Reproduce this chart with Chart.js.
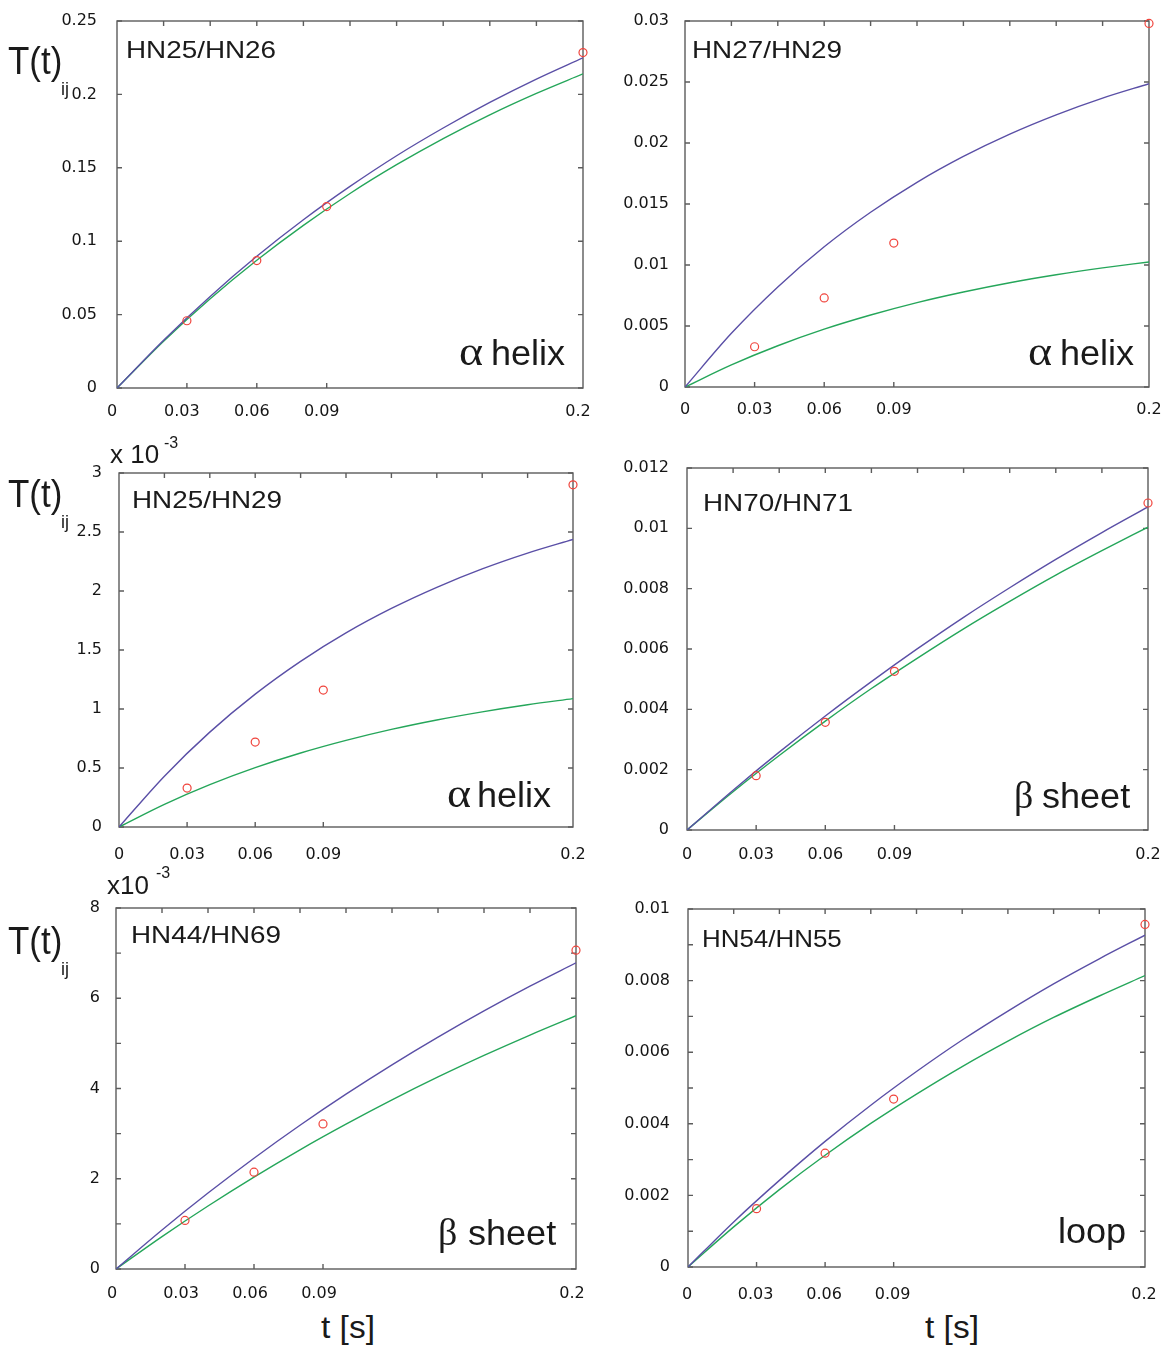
<!DOCTYPE html>
<html>
<head>
<meta charset="utf-8">
<script src="https://cdn.jsdelivr.net/npm/chart.js@4.4.1/dist/chart.umd.min.js"></script>
<style>
  body { margin: 0; background: #fff; width: 1161px; height: 1346px; position: relative; overflow: hidden; }
  canvas { position: absolute; }
  .txt { position: absolute; white-space: nowrap; line-height: 1; color: #1a1a1a; transform-origin: 0 0; z-index: 2; }
</style>
</head>
<body>
<script>
// mixing time grid for the model curves, and the measured mixing times
const tLine = [0, 0.02, 0.04, 0.06, 0.08, 0.10, 0.12, 0.14, 0.16, 0.18, 0.20];
const tObs = [0.03, 0.06, 0.09, 0.2];
const xLabelTicks = [0, 0.03, 0.06, 0.09, 0.2];
const xTopMarks = [0.02, 0.04, 0.06, 0.08, 0.10, 0.12, 0.14, 0.16, 0.18];
const xBottomMarks = [0.03, 0.06, 0.09];

// HN25/HN26 — alpha helix
const p1Blue = [0, 0.0326, 0.0624, 0.0897, 0.1146, 0.1373, 0.1582, 0.1771, 0.1945, 0.2104, 0.2249];
const p1Green = [0, 0.0319, 0.0608, 0.0870, 0.1108, 0.1325, 0.1521, 0.1699, 0.1861, 0.2007, 0.2140];
const p1Obs = [0.0458, 0.0868, 0.1236, 0.2285];
const p1YTicks = [0, 0.05, 0.1, 0.15, 0.2, 0.25];

// HN27/HN29 — alpha helix
const p2Blue = [0, 0.0044, 0.0082, 0.01149, 0.01432, 0.01678, 0.0189, 0.02073, 0.02231, 0.02368, 0.02486];
const p2Green = [0, 0.00181, 0.00338, 0.00474, 0.0059, 0.00692, 0.00779, 0.00855, 0.0092, 0.00976, 0.01025];
const p2Obs = [0.0033, 0.0073, 0.0118, 0.0298];
const p2YTicks = [0, 0.005, 0.01, 0.015, 0.02, 0.025, 0.03];

// HN25/HN29 — alpha helix (x 10^-3)
const p3Blue = [0, 0.431, 0.804, 1.126, 1.404, 1.645, 1.852, 2.031, 2.187, 2.321, 2.437];
const p3Green = [0, 0.192, 0.359, 0.503, 0.627, 0.734, 0.827, 0.907, 0.976, 1.036, 1.088];
const p3Obs = [0.33, 0.72, 1.16, 2.9];
const p3YTicks = [0, 0.5, 1, 1.5, 2, 2.5, 3];

// HN70/HN71 — beta sheet
const p4Blue = [0, 0.00132, 0.00258, 0.00378, 0.00492, 0.00601, 0.00705, 0.00803, 0.00897, 0.00986, 0.01071];
const p4Green = [0, 0.00127, 0.00247, 0.00361, 0.00469, 0.0057, 0.00667, 0.00758, 0.00845, 0.00926, 0.01004];
const p4Obs = [0.0018, 0.00357, 0.00526, 0.01084];
const p4YTicks = [0, 0.002, 0.004, 0.006, 0.008, 0.01, 0.012];

// HN44/HN69 — beta sheet (x 10^-3)
const p5Blue = [0, 0.865, 1.683, 2.455, 3.185, 3.874, 4.525, 5.139, 5.72, 6.268, 6.785];
const p5Green = [0, 0.719, 1.396, 2.036, 2.641, 3.209, 3.747, 4.255, 4.733, 5.185, 5.612];
const p5Obs = [1.077, 2.146, 3.215, 7.065];
const p5YTicks = [0, 2, 4, 6, 8];
const p5YMarks = [0, 1, 2, 3, 4, 5, 6, 7, 8];

// HN54/HN55 — loop
const p6Blue = [0, 0.00126, 0.00242, 0.00351, 0.00452, 0.00546, 0.00634, 0.00715, 0.00791, 0.00861, 0.00927];
const p6Green = [0, 0.00112, 0.00216, 0.00312, 0.00401, 0.00483, 0.0056, 0.00631, 0.00697, 0.00757, 0.00814];
const p6Obs = [0.00163, 0.00318, 0.00469, 0.00957];
const p6YTicks = [0, 0.002, 0.004, 0.006, 0.008, 0.01];
const p6YMarks = [0, 0.001, 0.002, 0.003, 0.004, 0.005, 0.006, 0.007, 0.008, 0.009, 0.01];

const BLUE = '#5a4fa6', GREEN = '#25a65a', RED = '#f0443c', FRAME = '#5c5c5c';
const PADL = 80, PADT = 20, PADR = 22, PADB = 40;
const tickFont = { family: '"DejaVu Sans", sans-serif', size: 16 };

// frame box + inward tick marks on all four sides
const framePlugin = {
  id: 'frame',
  beforeDatasetsDraw(chart, args, o) {
    const { ctx, chartArea: a, scales: { x, y } } = chart;
    ctx.save();
    ctx.strokeStyle = FRAME;
    ctx.lineWidth = 1.4;
    ctx.strokeRect(a.left, a.top, a.right - a.left, a.bottom - a.top);
    ctx.beginPath();
    o.top.forEach(v => { const p = x.getPixelForValue(v); ctx.moveTo(p, a.top); ctx.lineTo(p, a.top + 5); });
    o.bottom.forEach(v => { const p = x.getPixelForValue(v); ctx.moveTo(p, a.bottom); ctx.lineTo(p, a.bottom - 5); });
    o.y.forEach(v => {
      const p = y.getPixelForValue(v);
      ctx.moveTo(a.left, p); ctx.lineTo(a.left + 5, p);
      ctx.moveTo(a.right, p); ctx.lineTo(a.right - 5, p);
    });
    ctx.stroke();
    ctx.restore();
  }
};

// box = plot area on the page; g = label gaps (x: below axis, xs: sideways shift, y: left of axis)
function panel(box, g, blue, green, obs, yTicks, yMarks, yMax) {
  const c = document.createElement('canvas');
  c.width = box.r - box.l + PADL + PADR;
  c.height = box.b - box.t + PADT + PADB;
  c.style.left = (box.l - PADL) + 'px';
  c.style.top = (box.t - PADT) + 'px';
  document.body.appendChild(c);
  const pts = (ys, xs) => xs.map((t, i) => ({ x: t, y: ys[i] }));
  new Chart(c, {
    type: 'line',
    data: {
      datasets: [
        { data: pts(obs, tObs), showLine: false, pointRadius: 4, pointBorderWidth: 1.2,
          pointBorderColor: RED, pointBackgroundColor: 'rgba(0,0,0,0)', borderColor: RED, clip: false, order: 0 },
        { data: pts(blue, tLine), borderColor: BLUE, borderWidth: 1.4, pointRadius: 0, cubicInterpolationMode: 'monotone', order: 1 },
        { data: pts(green, tLine), borderColor: GREEN, borderWidth: 1.4, pointRadius: 0, cubicInterpolationMode: 'monotone', order: 2 },
      ],
    },
    options: {
      responsive: false, animation: false, events: [],
      layout: { autoPadding: false, padding: { left: 0, top: PADT, right: PADR, bottom: 0 } },
      plugins: { legend: { display: false }, tooltip: { enabled: false },
        frame: { top: xTopMarks, bottom: xBottomMarks, y: yMarks } },
      scales: {
        x: {
          type: 'linear', min: 0, max: 0.2,
          grid: { display: false }, border: { display: false },
          afterBuildTicks: s => { s.ticks = xLabelTicks.map(v => ({ value: v })); },
          afterFit: s => { s.height = PADB; s.paddingLeft = 0; s.paddingRight = 0; },
          ticks: { font: tickFont, color: '#151515', padding: g.x, labelOffset: g.xs, maxRotation: 0, autoSkip: false, callback: v => String(v) },
        },
        y: {
          type: 'linear', min: 0, max: yMax,
          grid: { display: false }, border: { display: false },
          afterBuildTicks: s => { s.ticks = yTicks.map(v => ({ value: v })); },
          afterFit: s => { s.width = PADL; s.paddingTop = 0; s.paddingBottom = 0; },
          ticks: { font: tickFont, color: '#151515', padding: g.y, autoSkip: false, callback: v => String(v) },
        },
      },
    },
    plugins: [framePlugin],
  });
}

panel({ l: 117, t: 21, r: 583, b: 388 }, { x: 6, xs: -5, y: 12 }, p1Blue, p1Green, p1Obs, p1YTicks, p1YTicks, 0.25);
panel({ l: 685, t: 21, r: 1149, b: 387 }, { x: 5, xs: 0, y: 8 }, p2Blue, p2Green, p2Obs, p2YTicks, p2YTicks, 0.03);
panel({ l: 119, t: 473, r: 573, b: 827 }, { x: 10, xs: 0, y: 9 }, p3Blue, p3Green, p3Obs, p3YTicks, p3YTicks, 3);
panel({ l: 687, t: 468, r: 1148, b: 830 }, { x: 7, xs: 0, y: 10 }, p4Blue, p4Green, p4Obs, p4YTicks, p4YTicks, 0.012);
panel({ l: 116, t: 908, r: 576, b: 1269 }, { x: 7, xs: -4, y: 8 }, p5Blue, p5Green, p5Obs, p5YTicks, p5YMarks, 8);
panel({ l: 688, t: 909, r: 1145, b: 1267 }, { x: 10, xs: -1, y: 10 }, p6Blue, p6Green, p6Obs, p6YTicks, p6YMarks, 0.01);

// text overlays: [text, left, baseline, size, serif?, scaleX]
const SANS = '"Liberation Sans", Arial, sans-serif', SERIF = '"Liberation Serif", "Times New Roman", serif';
const texts = [
  ['HN25/HN26', 126, 58, 24, 0, 1.16], ['HN27/HN29', 692, 58, 24, 0, 1.16],
  ['HN25/HN29', 132, 508, 24, 0, 1.16], ['HN70/HN71', 703, 511, 24, 0, 1.16],
  ['HN44/HN69', 131, 943, 24, 0, 1.16], ['HN54/HN55', 702, 947, 24, 0, 1.08],
  ['α', 459, 365, 40, 1, 1.15], ['helix', 491, 365, 35, 0, 1.03],
  ['α', 1028, 365, 40, 1, 1.15], ['helix', 1060, 365, 35, 0, 1.03],
  ['α', 447, 807, 40, 1, 1.15], ['helix', 477, 807, 35, 0, 1.03],
  ['β', 1014, 808, 38, 1, 1.0], ['sheet', 1042, 808, 35, 0, 1.03],
  ['β', 438, 1245, 38, 1, 1.0], ['sheet', 468, 1245, 35, 0, 1.03],
  ['loop', 1058, 1243, 35, 0, 1.03],
  ['T(t)', 8, 74, 38, 0, 0.92], ['ij', 61, 95, 18, 0, 1],
  ['T(t)', 8, 507, 38, 0, 0.92], ['ij', 61, 528, 18, 0, 1],
  ['T(t)', 8, 954, 38, 0, 0.92], ['ij', 61, 975, 18, 0, 1],
  ['x 10', 110, 463, 26, 0, 1], ['-3', 164, 449, 16, 0, 1],
  ['x10', 107, 894, 26, 0, 1], ['-3', 156, 879, 16, 0, 1],
  ['t [s]', 321, 1338, 31, 0, 1.08], ['t [s]', 925, 1338, 31, 0, 1.08],
];
texts.forEach(([s, x, base, size, serif, sx]) => {
  const d = document.createElement('div');
  d.className = 'txt';
  d.textContent = s;
  d.style.fontFamily = serif ? SERIF : SANS;
  d.style.fontSize = size + 'px';
  d.style.left = x + 'px';
  d.style.top = (base - size * (serif ? 0.8375 : 0.8465)) + 'px';
  d.style.transform = 'scaleX(' + sx + ')';
  document.body.appendChild(d);
});
</script>
</body>
</html>
